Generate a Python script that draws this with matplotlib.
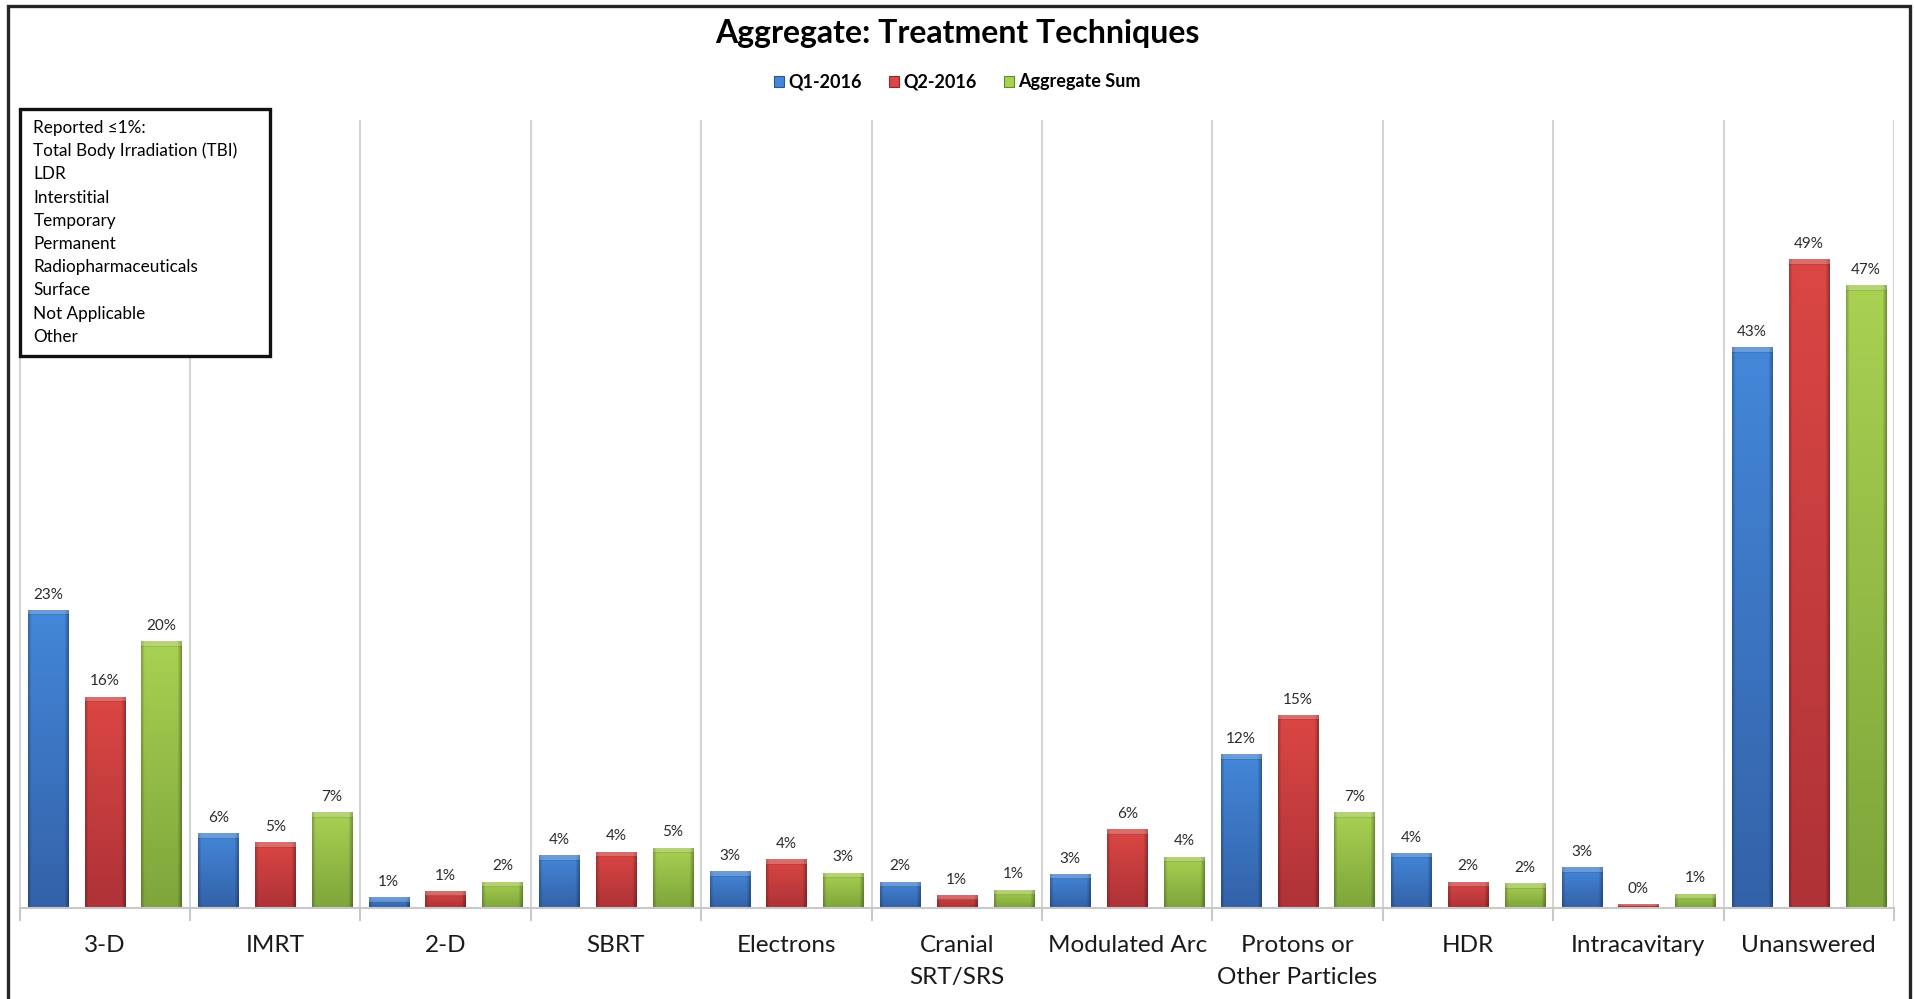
import numpy as np
import matplotlib
matplotlib.use("Agg")
import matplotlib.pyplot as plt
from matplotlib.patches import Rectangle, Patch
from matplotlib.colors import to_rgb

plt.rcParams['font.family'] = ['Lato', 'DejaVu Sans']

# ---- data -------------------------------------------------------------
categories = ["3-D", "IMRT", "2-D", "SBRT", "Electrons", "Cranial\nSRT/SRS",
              "Modulated Arc", "Protons or\nOther Particles", "HDR",
              "Intracavitary", "Unanswered"]
q1_2016 = [22.7, 5.7, 0.8, 4.0, 2.8, 2.0, 2.6, 11.7, 4.2, 3.1, 42.7]
q2_2016 = [16.1, 5.0, 1.3, 4.3, 3.7, 1.0, 6.0, 14.7, 2.0, 0.3, 49.4]
aggregate_sum = [20.3, 7.3, 2.0, 4.6, 2.7, 1.4, 3.9, 7.3, 1.9, 1.1, 47.4]
series_names = ["Q1-2016", "Q2-2016", "Aggregate Sum"]
low_share_items = ["Total Body Irradiation (TBI)", "LDR", "Interstitial",
                   "Temporary", "Permanent", "Radiopharmaceuticals",
                   "Surface", "Not Applicable", "Other"]

# ---- styling ----------------------------------------------------------
W, H = 1915, 999
palette = {
    "Q1-2016": ("#4487D9", "#3362A8", "#2A5590"),
    "Q2-2016": ("#DB4744", "#AE3237", "#8E2A2A"),
    "Aggregate Sum": ("#A9D152", "#7DA53A", "#66882C"),
}
YMAX = 60

fig = plt.figure(figsize=(W / 100, H / 100), dpi=100)
fig.patch.set_facecolor("white")

ax_left, ax_right, ax_top, ax_bottom = 19.5, 1894, 120, 908
ax = fig.add_axes([ax_left / W, 1 - ax_bottom / H,
                   (ax_right - ax_left) / W, (ax_bottom - ax_top) / H])
ax.set_xlim(-0.5, len(categories) - 0.5)
ax.set_ylim(0, YMAX)
px_per_unit = (ax_bottom - ax_top) / YMAX


def shaded_image(top_hex, bot_hex, height_px, nx=40):
    """RGB image for one bar: vertical fade, darker sides, light top bevel."""
    ny = max(int(round(height_px)), 2)
    top = np.array(to_rgb(top_hex))
    bot = np.array(to_rgb(bot_hex))
    s = np.linspace(0, 1, ny)[:, None, None]
    col = top * (1 - s) + bot * s
    t = np.linspace(0, 1, nx)
    side = np.ones(nx)
    side = np.where(t < 0.08, 0.78 + 0.22 * (t / 0.08), side)
    side = np.where(t > 0.9, 1.0 - 0.3 * ((t - 0.9) / 0.1), side)
    img = col * side[None, :, None]
    bevel = min(5, ny // 2)
    if bevel > 0:
        img[:bevel] = img[:bevel] * 0.75 + 0.22
        img[bevel:bevel + 1] = img[bevel:bevel + 1] * 0.9
    return np.clip(img, 0, 1)


x = np.arange(len(categories))
width = 0.235
offsets = [-1 / 3, 0, 1 / 3]
all_series = [q1_2016, q2_2016, aggregate_sum]

for name, vals, off in zip(series_names, all_series, offsets):
    top_c, bot_c, edge_c = palette[name]
    bars = ax.bar(x + off, vals, width, color=top_c, linewidth=0, zorder=2)
    for patch, v in zip(bars, vals):
        x0 = patch.get_x()
        img = shaded_image(top_c, bot_c, v * px_per_unit)
        im = ax.imshow(img, extent=(x0, x0 + width, 0, v), origin="upper",
                       aspect="auto", interpolation="bilinear", zorder=2.5)
        im.set_clip_path(patch)
        ax.annotate(f"{v:.0f}%", (patch.get_x() + width / 2, v),
                    xytext=(0, 6), textcoords="offset points",
                    ha="center", va="bottom", fontsize=11,
                    color="#2b2b2b", zorder=4)

ax.set_xlim(-0.5, len(categories) - 0.5)
ax.set_ylim(0, YMAX)

# category axis: separators between groups, labels centred below
ax.set_xticks(x)
ax.set_xticklabels(categories, fontsize=17.5, color="#1a1a1a", linespacing=1.65)
ax.set_xticks(np.arange(-0.5, len(categories), 1), minor=True)
ax.tick_params(axis="x", which="major", length=0, pad=19.5)
ax.tick_params(axis="x", which="minor", length=9, width=1.5, color="#C8C8C8")
ax.grid(which="minor", axis="x", color="#D4D4D4", linewidth=1.5, zorder=0)
ax.set_yticks([])
for side in ["top", "right", "left"]:
    ax.spines[side].set_visible(False)
ax.spines["bottom"].set_color("#C8C8C8")
ax.spines["bottom"].set_linewidth(1.5)
ax.set_facecolor("none")

# title and legend
fig.text(0.5, 1 - 33 / H, "Aggregate: Treatment Techniques", ha="center",
         va="center", fontsize=23, fontweight="bold", color="#000000")
handles = [Patch(facecolor=palette[n][0], edgecolor=palette[n][2], linewidth=0.8)
           for n in series_names]
fig.legend(handles, series_names, loc="center", bbox_to_anchor=(0.5, 1 - 82 / H),
           ncol=3, frameon=False, prop={"weight": "bold", "size": 13},
           handlelength=0.55, handleheight=0.55, handletextpad=0.25,
           columnspacing=1.5)

# note box listing techniques reported at or under 1%
box_x0, box_y0, box_x1, box_y1 = 20, 109, 270, 356
fig.patches.append(Rectangle((box_x0 / W, 1 - box_y1 / H),
                             (box_x1 - box_x0) / W, (box_y1 - box_y0) / H,
                             transform=fig.transFigure, facecolor="white",
                             edgecolor="#111111", linewidth=2.4, zorder=5))
note_lines = ["Reported \u22641%:"] + low_share_items
for i, line in enumerate(note_lines):
    fig.text(33.5 / W, 1 - (128 + i * 23.2) / H, line, ha="left", va="center",
             fontsize=12.3, color="#000000", zorder=6)

# outer frame
fig.patches.append(Rectangle((8 / W, -0.05), (1910 - 8) / W, 1.05 - 6 / H,
                             transform=fig.transFigure, facecolor="none",
                             edgecolor="#262626", linewidth=2.4, zorder=10,
                             clip_on=False))

fig.savefig("out.png", dpi=100, facecolor="white")
